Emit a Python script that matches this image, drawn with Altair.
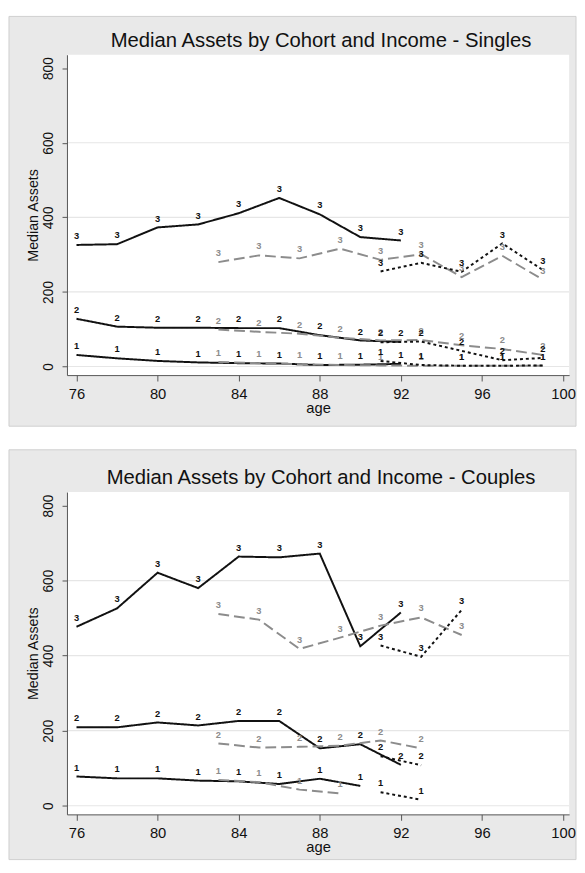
import altair as alt
import pandas as pd

# ---------------- data ----------------
AGES_C1 = [76, 78, 80, 82, 84, 86, 88, 90, 92]
AGES_C2 = [83, 85, 87, 89, 91, 93, 95, 97, 99]
AGES_C3 = [91, 93, 95, 97, 99]

# Singles
S_C1_I3 = [326, 328, 373, 381, 411, 452, 408, 347, 338]
S_C1_I2 = [128, 107, 104, 104, 103, 103, 84, 70, 66]
S_C1_I1 = [31, 22, 15, 11, 9, 8, 4, 5, 7]
S_C2_I3 = [280, 298, 290, 316, 286, 301, 240, 297, 233]
S_C2_I2 = [99, 93, 88, 77, 70, 71, 57, 47, 31]
S_C2_I1 = [12, 9, 6, 4, 3, 2, 2, 2, 2]
S_C3_I3 = [255, 278, 254, 330, 259]
S_C3_I2 = [65, 67, 42, 17, 23]
S_C3_I1 = [15, 4, 2, 2, 3]

# Couples
C_AGES_C1_I1 = [76, 78, 80, 82, 84, 86, 88, 90]
C_AGES_C2_I3 = [83, 85, 87, 89, 91, 93, 95]
C_AGES_C2_I2 = [83, 85, 87, 89, 91, 93]
C_AGES_C2_I1 = [83, 85, 87, 89]
C_AGES_C3 = [91, 93, 95]
C_C1_I3 = [477, 526, 621, 580, 664, 662, 672, 425, 515]
C_C1_I2 = [209, 209, 222, 214, 226, 226, 153, 164, 109]
C_C1_I1 = [78, 73, 73, 67, 65, 58, 72, 53]
C_C2_I3 = [511, 496, 418, 448, 480, 502, 455]
C_C2_I2 = [166, 155, 157, 160, 174, 153]
C_C2_I1 = [69, 63, 43, 33]
C_C3_I3 = [427, 397, 522]
C_C3_I2 = [132, 108]
C_C3_I1 = [36, 16]

X_TICKS = [76, 80, 84, 88, 92, 96, 100]
Y_TICKS = [0, 200, 400, 600, 800]
GRID_VALUES = [0, 200, 400, 600]
COHORTS = ["1", "2", "3"]
TITLE_S = "Median Assets by Cohort and Income - Singles"
TITLE_C = "Median Assets by Cohort and Income - Couples"


def rows(cohort, income, ages, vals):
    return [{"cohort": cohort, "income": str(income), "series": f"{cohort}-{income}",
             "age": a, "value": v} for a, v in zip(ages, vals)]


singles = pd.DataFrame(
    rows("1", 3, AGES_C1, S_C1_I3) + rows("1", 2, AGES_C1, S_C1_I2) + rows("1", 1, AGES_C1, S_C1_I1)
    + rows("2", 3, AGES_C2, S_C2_I3) + rows("2", 2, AGES_C2, S_C2_I2) + rows("2", 1, AGES_C2, S_C2_I1)
    + rows("3", 3, AGES_C3, S_C3_I3) + rows("3", 2, AGES_C3, S_C3_I2) + rows("3", 1, AGES_C3, S_C3_I1)
)
couples = pd.DataFrame(
    rows("1", 3, AGES_C1, C_C1_I3) + rows("1", 2, AGES_C1, C_C1_I2) + rows("1", 1, C_AGES_C1_I1, C_C1_I1)
    + rows("2", 3, C_AGES_C2_I3, C_C2_I3) + rows("2", 2, C_AGES_C2_I2, C_C2_I2)
    + rows("2", 1, C_AGES_C2_I1, C_C2_I1)
    + rows("3", 3, C_AGES_C3, C_C3_I3) + rows("3", 2, C_AGES_C3[:2], C_C3_I2)
    + rows("3", 1, C_AGES_C3[:2], C_C3_I1)
)

FONT = "Liberation Sans"
W = 511
grid_df = pd.DataFrame({"value": GRID_VALUES})


def panel(df, title, H, top, bottom):
    one = pd.DataFrame({"t": [title]})
    xs = alt.Scale(domain=[75.53, 100.3], nice=False, zero=False)
    ys = alt.Scale(domain=[-23, 836], nice=False, zero=False)
    xax = alt.Axis(values=X_TICKS, title="age", grid=False, domainColor="#555555",
                   tickColor="#555555", tickSize=6, labelFontSize=15, labelColor="#111111",
                   labelFont=FONT, labelPadding=6, labelFlush=False, titleFont=FONT,
                   titleFontSize=15, titleFontWeight="normal", titleColor="#111111",
                   titlePadding=-1, zindex=1)
    yax = alt.Axis(values=Y_TICKS, title="Median Assets", grid=False, domainColor="#555555",
                   tickColor="#555555", tickSize=5, labelAngle=270, labelAlign="center",
                   labelBaseline="alphabetic", labelPadding=10, labelFontSize=14,
                   labelColor="#111111", labelFont=FONT, titleFont=FONT, titleFontSize=14.5,
                   titleFontWeight="normal", titleColor="#111111", titlePadding=1, zindex=1)
    x = alt.X("age:Q", scale=xs, axis=xax)
    y = alt.Y("value:Q", scale=ys, axis=yax)
    color = alt.Color("cohort:N", scale=alt.Scale(domain=COHORTS,
                      range=["#111111", "#8c8c8c", "#111111"]), legend=None)
    dash = alt.StrokeDash("cohort:N", scale=alt.Scale(domain=COHORTS,
                          range=[[1, 0], [11, 5], [3, 3]]), legend=None)

    bg = alt.Chart(one).mark_rect(fill="#e9e9e9", stroke="#cfcfcf", strokeWidth=1).encode(
        x=alt.value(-59), x2=alt.value(W + 7), y=alt.value(top), y2=alt.value(H + bottom))
    white = alt.Chart(one).mark_rect(fill="white").encode(
        x=alt.value(0), x2=alt.value(W), y=alt.value(0), y2=alt.value(H))
    ttl = alt.Chart(one).mark_text(fontSize=20.6, font=FONT, color="#111111", align="center",
                                   baseline="alphabetic").encode(
        x=alt.value(W / 2 + 3), y=alt.value(-8), text="t:N")
    grid = alt.Chart(grid_df).mark_rule(color="#e6e6e6", strokeWidth=1.2).encode(y=y)
    lines = alt.Chart(df).mark_line(strokeWidth=2).encode(
        x=x, y=y, color=color, strokeDash=dash, detail="series:N")
    labels = alt.Chart(df).mark_text(dy=-9, fontSize=9.5, fontWeight="bold", font=FONT).encode(
        x=x, y=y, text="income:N", color=color)

    return alt.layer(bg, white, ttl, grid, lines, labels).properties(width=W, height=H)


top = panel(singles, TITLE_S, 326, -39, 52)
bottom = panel(couples, TITLE_C, 328, -43, 46)

chart = alt.vconcat(top, bottom, spacing=22).properties(padding=0).configure_view(
    stroke=None).configure(background="white")

chart.save("out.html", embed_options={"renderer": "svg", "actions": False})
